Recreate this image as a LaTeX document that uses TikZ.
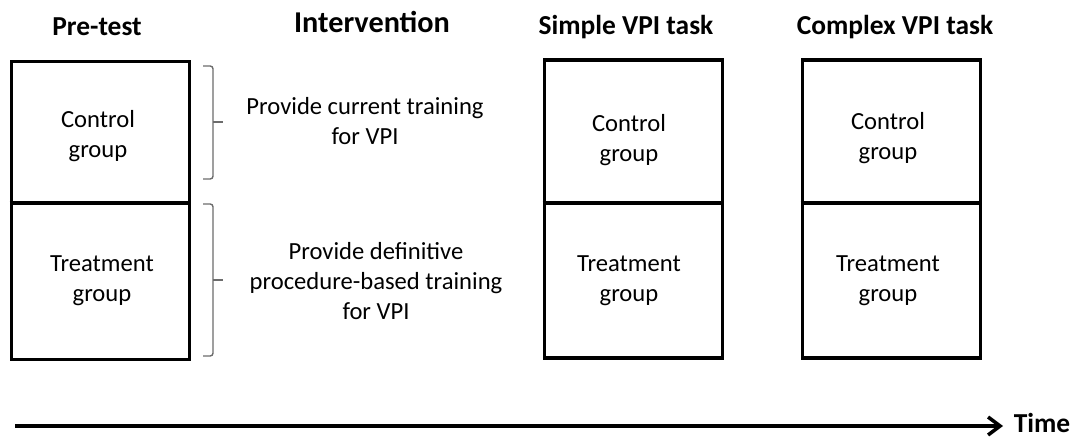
\documentclass[tikz,border=0pt]{standalone}
\usepackage{fontspec}
\setmainfont{Carlito}
\usetikzlibrary{positioning,calc,arrows.meta}

\begin{document}
\begin{tikzpicture}[x=0.025cm, y=-0.025cm,
        grp/.style={draw, line width=2.5pt, minimum width=4.45cm, minimum height=7.45cm},
        txt/.style={align=center, font=\fontsize{17.5}{21.5}\selectfont},
        head/.style={font=\fontsize{19.5}{23}\selectfont\bfseries},
        brc/.style={draw=gray!85!black, line width=1pt, rounded corners=2pt}]

        \useasboundingbox (0,0) rectangle (1078,438);

        % the three columns of groups
        \node[grp] (PT) at (100.5,210.5) {};
        \node[grp] (SV) at (633.5,209) {};
        \node[grp] (CV) at (891.5,209) {};

        \node[head] (hPT) at (97,27) {Pre-test};
        \node[head, font=\fontsize{21.5}{25}\selectfont\bfseries] (hIV) at (372,22) {Intervention};
        \node[head] (hSV) at (626,27) {Simple VPI task};
        \node[head] (hCV) at (895,27) {Complex VPI task};

        \node[txt] (PT1) at (98,136) {Control\\group};
        \node[txt] (PT2) at (102,281) {Treatment\\group};
        \node[txt] (SV1) at (629,140) {Control\\group};
        \node[txt] (SV2) at (629,281) {Treatment\\group};
        \node[txt] (CV1) at (888,138) {Control\\group};
        \node[txt] (CV2) at (888,281) {Treatment\\group};

        % interventions
        \node[txt] (IV1) at (365,121) {Provide current training\\for VPI};
        \node[txt] (IV2) at (376,281) {Provide definitive\\procedure-based training\\for VPI};

        % brackets in front of the interventions
        \coordinate (B1a) at (203,66);
        \coordinate (B1m) at (213,122);
        \coordinate (B1b) at (203,179);
        \coordinate (B2a) at (203,204);
        \coordinate (B2m) at (213,280);
        \coordinate (B2b) at (203,356);

        \coordinate (T0) at (15,426);
        \node[head, inner sep=1pt] (T1) at (1042,423) {Time};
        \coordinate (T2) at (1003,426);

        \begin{scope}[line width=2.5pt]
            \foreach \b in {PT,SV,CV}
            \draw (\b.west |- 0,203) -- (\b.east |- 0,203);
            \draw[-{Straight Barb[length=0.3cm,width=0.45cm]}] (T0) -- (T2);
        \end{scope}

        \foreach \b in {1,2}{
            \draw[brc] (B\b a) -| (B\b m) |- (B\b b);
            \draw[brc] (B\b m) -- ++(10,0);
        }

\end{tikzpicture}
\end{document}
